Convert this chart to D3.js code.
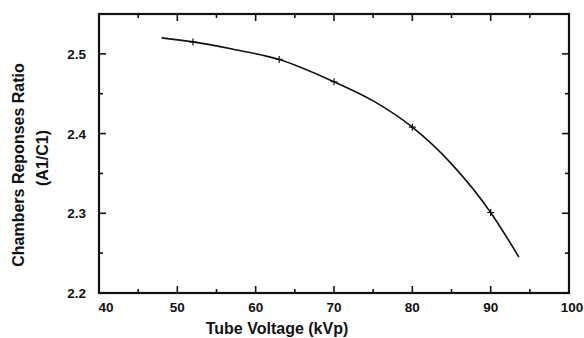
<!DOCTYPE html>
<html>
<head>
<meta charset="utf-8">
<script src="https://cdn.jsdelivr.net/npm/d3@7"></script>
<style>
    body { margin: 0; background: #fff; }
    svg { display: block; }
    .ticklabel { font-family: "Liberation Sans", Arial, sans-serif; font-weight: bold; font-size: 13.5px; fill: #111; }
    .label { font-family: "Liberation Sans", Arial, sans-serif; font-weight: bold; font-size: 16px; fill: #111; }
</style>
</head>
<body>
<div id="chart"></div>
<script>
// Measured points (kVp, ratio)
const voltages = [52, 63, 70, 80, 90];
const ratios = [2.515, 2.493, 2.465, 2.408, 2.301];

// Fitted curve
const curveVoltages = [48, 52, 57, 63, 70, 75, 80, 85, 90, 93.6];
const curveRatios = [2.520, 2.515, 2.506, 2.493, 2.465, 2.441, 2.408, 2.362, 2.301, 2.245];

const xTicks = [40, 50, 60, 70, 80, 90, 100];
const xMinor = [45, 55, 65, 75, 85, 95];
const yTicks = [2.2, 2.3, 2.4, 2.5];
const yMinor = [2.25, 2.35, 2.45];

function drawChart(graphID) {
    let margin = {top: 14, right: 15, bottom: 45, left: 99},
        width = 584 - margin.left - margin.right,
        height = 338 - margin.top - margin.bottom;

    let svg = d3.select(graphID).append('svg')
        .attr('width', 584)
        .attr('height', 338);

    let g = svg.append('g')
        .attr('transform', 'translate(' + margin.left + ',' + margin.top + ')');

    let x = d3.scaleLinear().domain([40, 100]).range([0, width]);
    let y = d3.scaleLinear().domain([2.2, 2.55]).range([height, 0]);

    // Frame
    g.append('rect')
        .attr('width', width)
        .attr('height', height)
        .attr('fill', 'none')
        .attr('stroke', '#111')
        .attr('stroke-width', 2.2);

    // Inward ticks, bottom and top
    let xTickData = xTicks.map(function (v) { return {v: v, len: 7}; })
        .concat(xMinor.map(function (v) { return {v: v, len: 4}; }));
    [[height, -1], [0, 1]].forEach(function (side) {
        g.selectAll(null)
            .data(xTickData)
            .enter().append('line')
            .attr('x1', function (d) { return x(d.v); })
            .attr('x2', function (d) { return x(d.v); })
            .attr('y1', side[0])
            .attr('y2', function (d) { return side[0] + side[1] * d.len; })
            .attr('stroke', '#111')
            .attr('stroke-width', 1.6);
    });

    // Inward ticks, left and right
    let yTickData = yTicks.map(function (v) { return {v: v, len: 7}; })
        .concat(yMinor.map(function (v) { return {v: v, len: 4}; }));
    [[0, 1], [width, -1]].forEach(function (side) {
        g.selectAll(null)
            .data(yTickData)
            .enter().append('line')
            .attr('y1', function (d) { return y(d.v); })
            .attr('y2', function (d) { return y(d.v); })
            .attr('x1', side[0])
            .attr('x2', function (d) { return side[0] + side[1] * d.len; })
            .attr('stroke', '#111')
            .attr('stroke-width', 1.6);
    });

    // Tick labels
    g.selectAll('.xlab')
        .data(xTicks)
        .enter().append('text')
        .attr('class', 'ticklabel')
        .attr('x', function (d) { return x(d) + (d === 40 ? 7 : (d === 100 ? 3 : 0)); })
        .attr('y', height + 19)
        .attr('text-anchor', 'middle')
        .text(d3.format('d'));

    g.selectAll('.ylab')
        .data(yTicks)
        .enter().append('text')
        .attr('class', 'ticklabel')
        .attr('x', -13)
        .attr('y', function (d) { return y(d) + 5; })
        .attr('text-anchor', 'end')
        .text(d3.format('.1f'));

    // Curve
    let line = d3.line()
        .x(function (d) { return x(d[0]); })
        .y(function (d) { return y(d[1]); })
        .curve(d3.curveMonotoneX);

    g.append('path')
        .datum(d3.zip(curveVoltages, curveRatios))
        .attr('fill', 'none')
        .attr('stroke', '#111')
        .attr('stroke-width', 1.6)
        .attr('d', line);

    // + markers
    g.selectAll('.marker')
        .data(d3.zip(voltages, ratios))
        .enter().append('path')
        .attr('class', 'marker')
        .attr('transform', function (d) { return 'translate(' + x(d[0]) + ',' + y(d[1]) + ')'; })
        .attr('d', 'M-3.5,0H3.5M0,-3.5V3.5')
        .attr('stroke', '#111')
        .attr('stroke-width', 1.2);

    // Axis titles
    svg.append('text')
        .attr('class', 'label')
        .attr('x', 277)
        .attr('y', 334)
        .attr('text-anchor', 'middle')
        .text('Tube Voltage (kVp)');

    svg.append('text')
        .attr('class', 'label')
        .attr('transform', 'translate(24,165) rotate(-90)')
        .attr('text-anchor', 'middle')
        .text('Chambers Reponses Ratio');

    svg.append('text')
        .attr('class', 'label')
        .attr('transform', 'translate(48,158) rotate(-90)')
        .attr('text-anchor', 'middle')
        .text('(A1/C1)');
}

drawChart('#chart');
</script>
</body>
</html>
